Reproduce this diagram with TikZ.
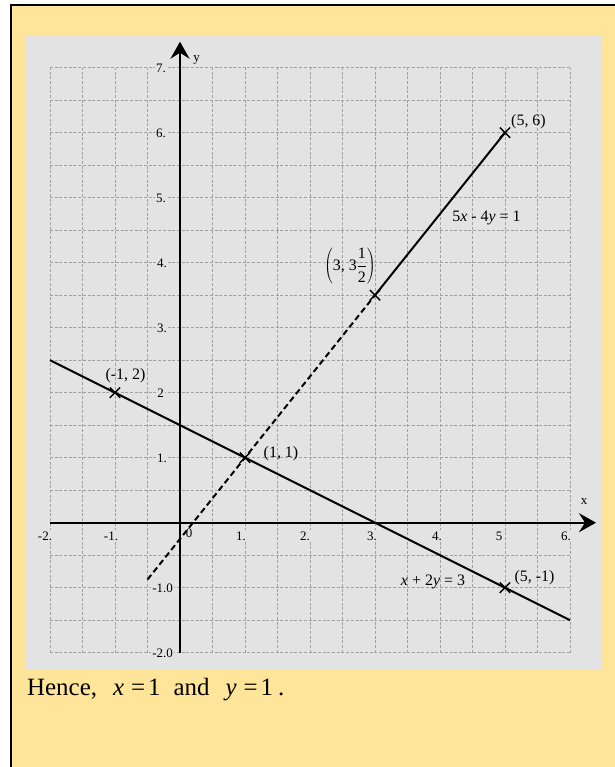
\documentclass[tikz,border=0pt]{standalone}
\usepackage{fontspec}
\setmainfont{Liberation Serif}
\usetikzlibrary{arrows.meta,shapes.misc}
\definecolor{paper}{HTML}{FFE599}
\definecolor{panel}{HTML}{E3E3E3}
\definecolor{gridc}{HTML}{A2A2A2}
\tikzset{
  gridline/.style={gridc, line width=0.75bp, dash pattern=on 3bp off 1.7bp},
  axisline/.style={line width=2.2bp, -{Stealth[length=17bp,width=19bp,inset=6bp]}},
  graphline/.style={line width=2bp},
  dashline/.style={line width=2bp, dash pattern=on 6bp off 3.5bp},
  crossmark/.style={cross out, draw, line width=1.4bp, minimum size=9bp, inner sep=0pt},
  ticklbl/.style={font=\fontsize{13}{14}\selectfont, inner sep=1.5bp, fill=panel},
  axlbl/.style={font=\fontsize{13}{14}\selectfont, inner sep=0pt},
  ptlbl/.style={font=\fontsize{16}{18}\selectfont, inner sep=0pt},
  bodytext/.style={font=\fontsize{25}{28}\selectfont, inner sep=0pt, anchor=base west}
}
\begin{document}
\begin{tikzpicture}[x=1bp,y=-1bp]
\useasboundingbox (0,0) rectangle (615,767);
\fill[white] (0,0) rectangle (615,767);
\fill[paper] (11,5) rectangle (615,767);
\draw[line width=2bp] (11,767) -- (11,5) -- (615,5);
\fill[panel] (26,36) rectangle (602,670);
\begin{scope}[shift={(180,522.7)}, x=65bp, y=65bp]
  \foreach \i in {-2,-1.5,...,6.1} \draw[gridline] (\i,-2) -- (\i,7);
  \foreach \j in {-2,-1.5,...,7.1} \draw[gridline] (-2,\j) -- (6,\j);
\end{scope}
% y tick labels
\node[ticklbl, anchor=east] (y7) at (167.5,68) {7.};
\node[ticklbl, anchor=east] (y6) at (167.5,133) {6.};
\node[ticklbl, anchor=east] (y5) at (167.5,198) {5.};
\node[ticklbl, anchor=east] (y4) at (168.5,263) {4.};
\node[ticklbl, anchor=east] (y3) at (168.5,328) {3.};
\node[ticklbl, anchor=east] (y2) at (165.5,393) {2};
\node[ticklbl, anchor=east] (y1) at (168.5,458) {1.};
\node[ticklbl, anchor=east] (ym1) at (174.5,588) {-1.0};
\node[ticklbl, anchor=east] (ym2) at (174.5,653) {-2.0};
% x tick labels
\node[ticklbl] (xm2) at (45,536) {-2.};
\node[ticklbl] (xm1) at (111,536) {-1.};
\node[ticklbl] (x0) at (189,533) {0};
\node[ticklbl] (x1) at (241,536) {1.};
\node[ticklbl] (x2) at (305,536) {2.};
\node[ticklbl] (x3) at (372,536) {3.};
\node[ticklbl] (x4) at (437,536) {4.};
\node[ticklbl] (x5) at (499,536) {5};
\node[ticklbl] (x6) at (566,536) {6.};
\begin{scope}[shift={(180,522.7)}, x=65bp, y=65bp]
  \coordinate (xa0) at (-2,0); \coordinate (xa1) at (6.4,0);
  \coordinate (ya0) at (0,-2); \coordinate (ya1) at (0,7.4);
  \draw[axisline] (xa0) -- (xa1);
  \draw[axisline] (ya0) -- (ya1);
  \coordinate (l1a) at (-2,2.5); \coordinate (l1b) at (6,-1.5);
  \coordinate (l2a) at (-0.5,-0.875);
  \node[crossmark] (pA) at (-1,2) {};
  \node[crossmark] (pB) at (1,1) {};
  \node[crossmark] (pC) at (3,3.5) {};
  \node[crossmark] (pD) at (5,6) {};
  \node[crossmark] (pE) at (5,-1) {};
  \draw[graphline] (l1a) -- (l1b);
  \draw[dashline] (l2a) -- (pC.center);
  \draw[graphline] (pC.center) -- (pD.center);
\end{scope}
% axis names
\node[axlbl] (xlab) at (584,502) {x};
\node[axlbl] (ylab) at (196.5,60) {y};
% point labels
\node[ptlbl] (tA) at (125.5,376) {(-1, 2)};
\node[ptlbl] (tB) at (281,454) {(1, 1)};
\node[ptlbl] (tD) at (528.5,121.7) {(5, 6)};
\node[ptlbl] (tE) at (534.5,577.5) {(5, -1)};
\node[ptlbl] (tC) at (350,266) {$\displaystyle\left(\mbox{3, 3}\frac{\mbox{1}}{\mbox{2}}\right)$};
\node[ptlbl] (eq1) at (486.5,218) {5\textit{x} - 4\textit{y} = 1};
\node[ptlbl] (eq2) at (433,582) {\textit{x} + 2\textit{y} = 3};
% conclusion
\node[bodytext] (hence) at (27,695) {Hence,\hspace{16bp}\textit{x}\hspace{7bp}=\hspace{3bp}1\hspace{13bp}and\hspace{16bp}\textit{y}\hspace{7bp}=\hspace{3bp}1\hspace{5bp}.};
\end{tikzpicture}
\end{document}
